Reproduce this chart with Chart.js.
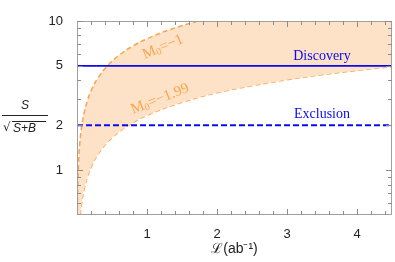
<!DOCTYPE html>
<html>
<head>
<meta charset="utf-8">
<script src="https://cdn.jsdelivr.net/npm/chart.js@4"></script>
<style>
  body { margin: 0; background: #fff; }
  #wrap { width: 395px; height: 262px; }
</style>
</head>
<body>
<div id="wrap"><canvas id="chart"></canvas></div>
<script>
// luminosity (ab^-1) and significance
const upperL = [0.005, 0.01, 0.02, 0.04, 0.07, 0.1, 0.15, 0.2, 0.3, 0.43, 0.6, 0.8, 1.0, 1.3, 1.73, 2.0, 3.0, 4.5];
const upperS = [0.54, 0.76, 1.07, 1.52, 2.01, 2.4, 2.94, 3.4, 4.16, 4.98, 5.89, 6.8, 7.6, 8.67, 10.0, 10.75, 13.2, 16.1];
const lowerL = [0.005, 0.02, 0.046, 0.06, 0.1, 0.15, 0.2, 0.3, 0.5, 0.74, 1.0, 1.5, 2.0, 2.5, 3.0, 3.5, 4.0, 4.5];
const lowerS = [0.165, 0.33, 0.5, 0.57, 0.74, 0.9, 1.04, 1.28, 1.65, 2.0, 2.33, 2.85, 3.3, 3.68, 4.04, 4.36, 4.66, 4.94];
const discovery = 5;
const exclusion = 2;
const xTicks = [1, 2, 3, 4];
const yTicks = [1, 2, 5, 10];

const orange = '#f7a54e';
const blue = '#0b0bf0';

function pts(xs, ys) {
    return xs.map((x, i) => ({ x: x, y: ys[i] }));
}

// "M" with a subscript 0, then the rest of the label
function drawM0(ctx, text, cx, cy, angle) {
    ctx.save();
    ctx.translate(cx, cy);
    ctx.rotate(angle);
    const big = '15px "Liberation Serif", serif';
    const small = '10px "Liberation Serif", serif';
    ctx.font = big;
    const wM = ctx.measureText('M').width;
    const wRest = ctx.measureText(text).width;
    ctx.font = small;
    const w0 = ctx.measureText('0').width;
    let x0 = -(wM + w0 + wRest) / 2;
    ctx.textAlign = 'left';
    ctx.textBaseline = 'middle';
    ctx.font = big;
    ctx.fillText('M', x0, 0);
    ctx.font = small;
    ctx.fillText('0', x0 + wM, 3);
    ctx.font = big;
    ctx.fillText(text, x0 + wM + w0, 0);
    ctx.restore();
}

// frame, inward ticks and the extra text labels
const decor = {
    id: 'decor',
    afterDatasetsDraw(chart) {
        const { ctx, chartArea: a, scales: { x, y } } = chart;
        ctx.save();
        ctx.strokeStyle = '#a0a0a0';
        ctx.lineWidth = 1;
        ctx.strokeRect(a.left + 0.5, a.top + 0.5, a.right - a.left - 1, a.bottom - a.top - 1);

        ctx.strokeStyle = '#8c8c8c';
        ctx.beginPath();
        for (let i = 1; i <= 22; i++) {
            const v = i * 0.2;
            const px = Math.round(x.getPixelForValue(v)) + 0.5;
            const len = (i % 5 === 0) ? 6 : 4;
            ctx.moveTo(px, a.bottom); ctx.lineTo(px, a.bottom - len);
            ctx.moveTo(px, a.top); ctx.lineTo(px, a.top + len);
        }
        const yMinor = [0.6, 0.7, 0.8, 0.9, 1, 2, 3, 4, 5, 6, 7, 8, 9, 10];
        yMinor.forEach(v => {
            const py = Math.round(y.getPixelForValue(v)) + 0.5;
            const len = yTicks.includes(v) ? 6 : 4;
            ctx.moveTo(a.left, py); ctx.lineTo(a.left + len, py);
            ctx.moveTo(a.right, py); ctx.lineTo(a.right - len, py);
        });
        ctx.stroke();

        // line labels
        ctx.fillStyle = blue;
        ctx.font = '14px "Liberation Serif", serif';
        ctx.textAlign = 'center';
        ctx.textBaseline = 'middle';
        ctx.fillText('Discovery', 322, 56);
        ctx.fillText('Exclusion', 322, 114);

        ctx.fillStyle = orange;
        drawM0(ctx, '=\u22121', 163, 47, -0.40);
        drawM0(ctx, '=\u22121.99', 160, 99, -0.38);

        // y axis label: S / sqrt(S+B)
        ctx.fillStyle = '#222';
        ctx.strokeStyle = '#222';
        ctx.font = 'italic 12px "Liberation Sans", sans-serif';
        ctx.textAlign = 'center';
        ctx.fillText('S', 25, 106);
        ctx.beginPath();
        ctx.moveTo(2, 115.5); ctx.lineTo(48, 115.5);
        ctx.stroke();
        ctx.font = '12px "DejaVu Sans", sans-serif';
        ctx.textAlign = 'left';
        ctx.fillText('\u221A', 3, 128);
        ctx.font = 'italic 12px "Liberation Sans", sans-serif';
        ctx.fillText('S+B', 13, 129);
        ctx.beginPath();
        ctx.moveTo(12, 121.5); ctx.lineTo(46, 121.5);
        ctx.stroke();
        ctx.restore();
    }
};

new Chart(document.getElementById('chart'), {
    type: 'scatter',
    data: {
        datasets: [
            {
                data: pts(upperL, upperS),
                showLine: true,
                borderColor: orange,
                borderWidth: 1.5,
                borderDash: [5, 3],
                pointRadius: 0,
                tension: 0.4,
                fill: '+1',
                backgroundColor: '#fde2c7'
            },
            {
                data: pts(lowerL, lowerS),
                showLine: true,
                borderColor: orange,
                borderWidth: 1.5,
                borderDash: [5, 3],
                pointRadius: 0,
                tension: 0.4,
                fill: false
            },
            {
                data: [{ x: 0, y: discovery }, { x: 4.5, y: discovery }],
                showLine: true,
                borderColor: blue,
                borderWidth: 1.8,
                pointRadius: 0,
                fill: false,
                order: -1
            },
            {
                data: [{ x: 0, y: exclusion }, { x: 4.5, y: exclusion }],
                showLine: true,
                borderColor: blue,
                borderWidth: 1.8,
                borderDash: [6, 3],
                pointRadius: 0,
                fill: false,
                order: -1
            }
        ]
    },
    options: {
        responsive: true,
        maintainAspectRatio: false,
        animation: false,
        layout: { padding: { left: 0, right: 3, top: 21, bottom: 0 } },
        plugins: { legend: { display: false }, tooltip: { enabled: false } },
        scales: {
            x: {
                type: 'linear',
                min: 0,
                max: 4.5,
                afterBuildTicks: s => { s.ticks = xTicks.map(v => ({ value: v })); },
                afterFit: s => { s.height = 47; },
                grid: { display: false },
                border: { display: false },
                ticks: { color: '#222', font: { size: 13, family: 'Liberation Sans' }, padding: 4 },
                title: {
                    display: true,
                    text: '\u2112(ab\u207B\u00B9)',
                    color: '#222',
                    font: { size: 14, family: 'Liberation Sans' },
                    padding: { top: 2 }
                }
            },
            y: {
                type: 'logarithmic',
                min: 0.5,
                max: 10,
                afterBuildTicks: s => { s.ticks = yTicks.map(v => ({ value: v })); },
                afterFit: s => { s.width = 77; },
                grid: { display: false },
                border: { display: false },
                ticks: {
                    color: '#222',
                    font: { size: 13, family: 'Liberation Sans' },
                    padding: 6,
                    callback: v => String(v)
                }
            }
        }
    },
    plugins: [decor]
});
</script>
</body>
</html>
